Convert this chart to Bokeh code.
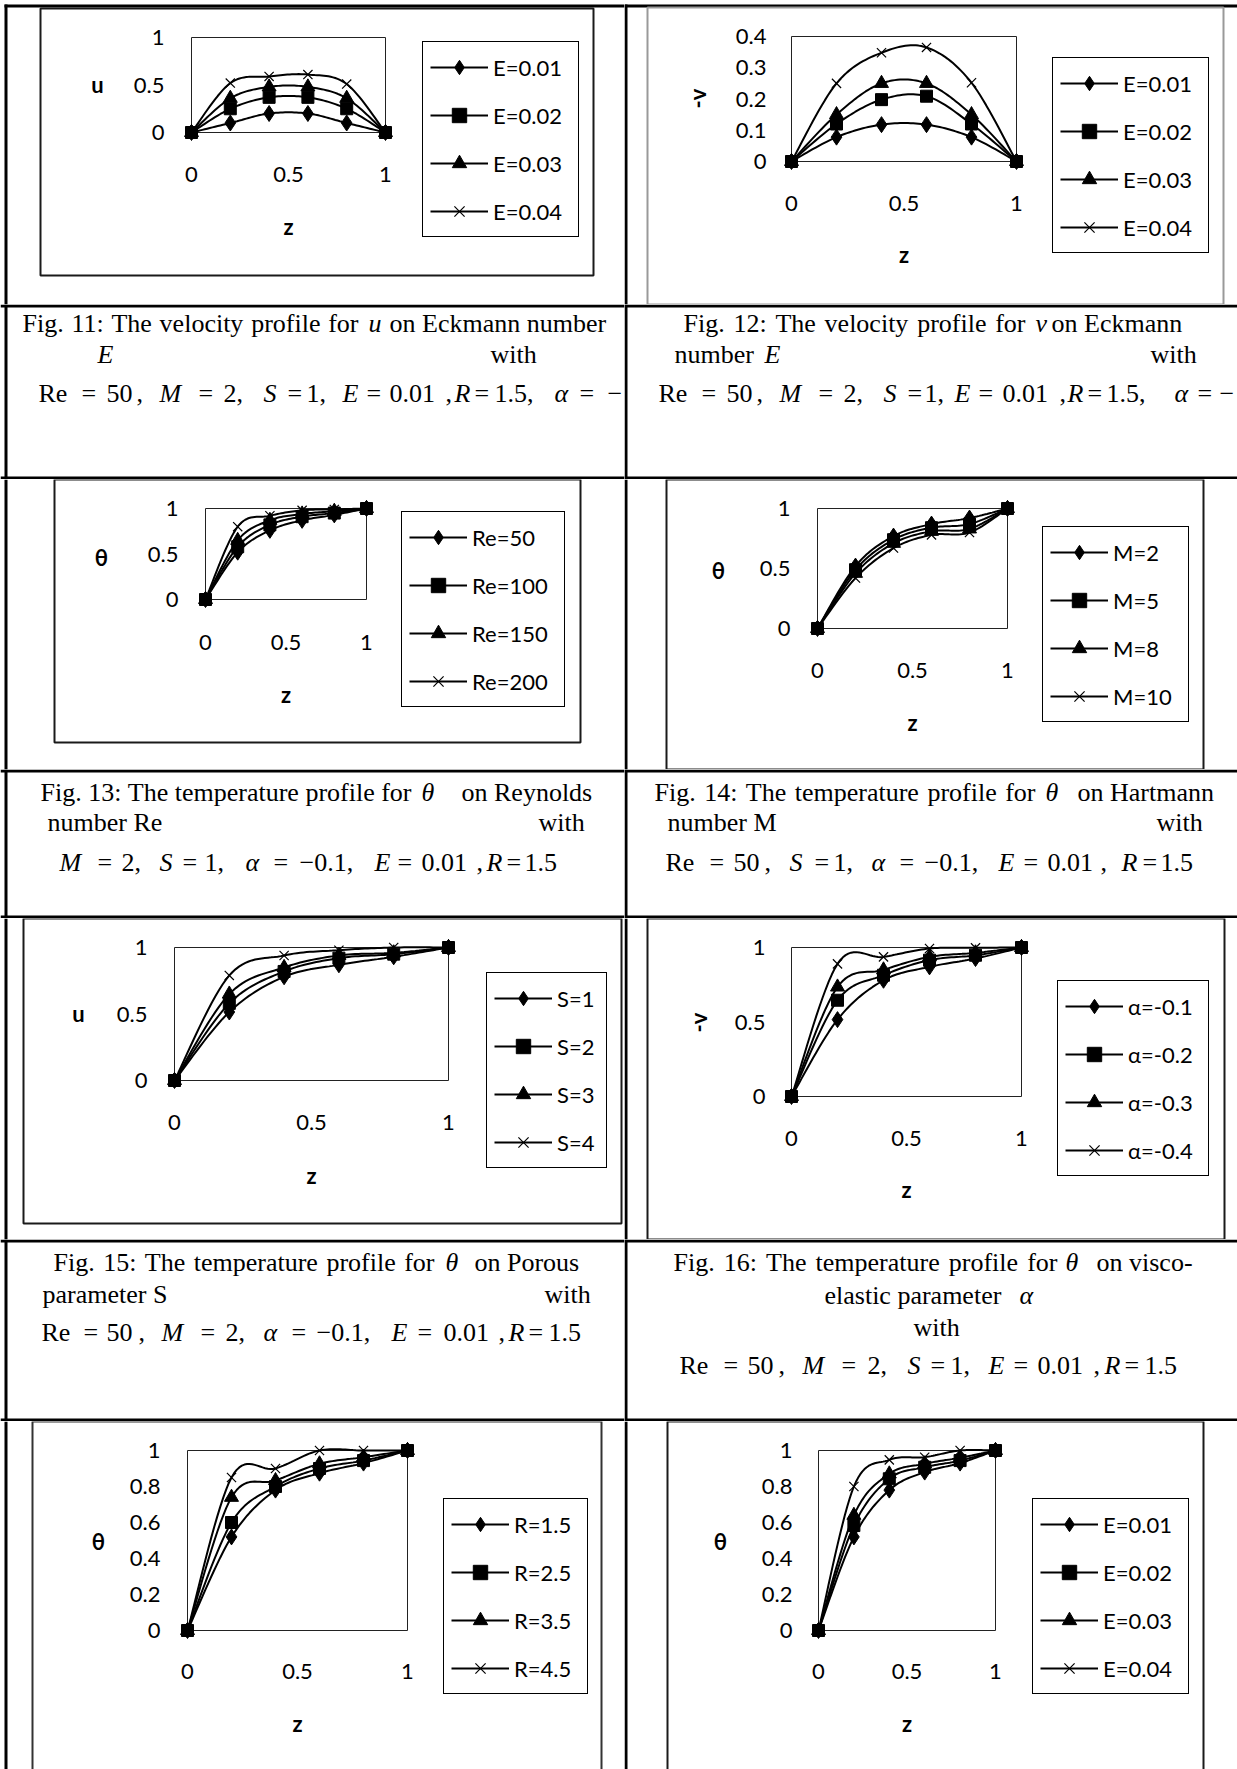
import glob
import math
import numpy as np
from bokeh.plotting import figure
from bokeh.models import Range1d, BoxAnnotation, Legend, LegendItem, FixedTicker
from bokeh.layouts import row, column
from bokeh.embed import file_html
from bokeh.resources import INLINE
from bokeh.core.properties import value

# ---------------- data ----------------
z = [0.0, 0.2, 0.4, 0.6, 0.8, 1.0]

fig11_labels = ["E=0.01", "E=0.02", "E=0.03", "E=0.04"]
fig11_u_E001 = [0, 0.10, 0.20, 0.20, 0.10, 0]
fig11_u_E002 = [0, 0.25, 0.37, 0.37, 0.25, 0]
fig11_u_E003 = [0, 0.36, 0.48, 0.48, 0.36, 0]
fig11_u_E004 = [0, 0.52, 0.59, 0.61, 0.51, 0]

fig12_labels = ["E=0.01", "E=0.02", "E=0.03", "E=0.04"]
fig12_v_E001 = [0, 0.078, 0.118, 0.118, 0.078, 0]
fig12_v_E002 = [0, 0.120, 0.198, 0.209, 0.120, 0]
fig12_v_E003 = [0, 0.150, 0.250, 0.250, 0.150, 0]
fig12_v_E004 = [0, 0.250, 0.348, 0.365, 0.252, 0]

fig13_labels = ["Re=50", "Re=100", "Re=150", "Re=200"]
fig13_t_Re50 = [0, 0.52, 0.76, 0.87, 0.93, 1]
fig13_t_Re100 = [0, 0.58, 0.82, 0.91, 0.95, 1]
fig13_t_Re150 = [0, 0.65, 0.87, 0.94, 0.97, 1]
fig13_t_Re200 = [0, 0.80, 0.92, 0.98, 0.99, 1]

fig14_labels = ["M=2", "M=5", "M=8", "M=10"]
fig14_t_M2 = [0, 0.52, 0.77, 0.87, 0.92, 1]
fig14_t_M5 = [0, 0.49, 0.74, 0.84, 0.87, 1]
fig14_t_M8 = [0, 0.46, 0.71, 0.81, 0.83, 1]
fig14_t_M10 = [0, 0.42, 0.67, 0.78, 0.80, 1]

fig15_labels = ["S=1", "S=2", "S=3", "S=4"]
fig15_u_S1 = [0, 0.515, 0.78, 0.87, 0.93, 1]
fig15_u_S2 = [0, 0.58, 0.82, 0.92, 0.95, 1]
fig15_u_S3 = [0, 0.65, 0.85, 0.94, 0.96, 1]
fig15_u_S4 = [0, 0.79, 0.94, 0.98, 1.0, 1]

fig16_labels = ["α=-0.1", "α=-0.2", "α=-0.3", "α=-0.4"]
fig16_v_a01 = [0, 0.516, 0.78, 0.87, 0.926, 1]
fig16_v_a02 = [0, 0.646, 0.814, 0.915, 0.948, 1]
fig16_v_a03 = [0, 0.735, 0.85, 0.937, 0.964, 1]
fig16_v_a04 = [0, 0.89, 0.937, 0.993, 0.998, 1]

fig17_labels = ["R=1.5", "R=2.5", "R=3.5", "R=4.5"]
fig17_t_R15 = [0, 0.52, 0.78, 0.874, 0.93, 1]
fig17_t_R25 = [0, 0.60, 0.80, 0.90, 0.944, 1]
fig17_t_R35 = [0, 0.74, 0.833, 0.926, 0.963, 1]
fig17_t_R45 = [0, 0.85, 0.90, 1.0, 1.0, 1]

fig18_labels = ["E=0.01", "E=0.02", "E=0.03", "E=0.04"]
fig18_t_E001 = [0, 0.52, 0.78, 0.88, 0.93, 1]
fig18_t_E002 = [0, 0.583, 0.843, 0.907, 0.944, 1]
fig18_t_E003 = [0, 0.64, 0.87, 0.926, 0.96, 1]
fig18_t_E004 = [0, 0.80, 0.948, 0.963, 1.0, 1]

ticks_half = [0, 0.5, 1]
ticks_v = [0, 0.1, 0.2, 0.3, 0.4]
ticks_fifth = [0, 0.2, 0.4, 0.6, 0.8, 1]

# ---------------- page geometry (pixels) ----------------
PAGE_W = 1237
LINE_T = 3
LEFT_LINE_X = 4
MID_X = 624
SERIF = "Liberation Serif"
SANS = "Lato"
CAP_SIZE = 26

CHART_ROWS = [(0, 304), (479, 769), (918, 1239), (1421, 1769)]
CAP_ROWS = [(304, 479), (769, 918), (1239, 1421)]

MARKERS = [dict(marker="diamond", size=16),
           dict(marker="square", size=12),
           dict(marker="triangle", size=14),
           dict(marker="x", size=13)]

LEG_PAD, LEG_GLYPH_W, LEG_GLYPH_H, LEG_STANDOFF, LEG_SPACING = 7, 58, 36, 5, 12


def _measurer():
    try:
        from PIL import ImageFont

        def find(name):
            for pat in ["/usr/share/fonts/**/" + name, "/usr/local/share/fonts/**/" + name]:
                r = glob.glob(pat, recursive=True)
                if r:
                    return r[0]
            return None
        reg = find("LiberationSerif-Regular.ttf")
        if reg is None:
            return None
        f = ImageFont.truetype(reg, CAP_SIZE)
        f.getlength("x")
        return lambda s: f.getlength(s)
    except Exception:
        return None


MEASURE = _measurer()


def smooth(xs, ys, n=18):
    P = np.column_stack([np.asarray(xs, float), np.asarray(ys, float)])
    E = np.vstack([P[:1], P, P[-1:]])
    segs = []
    for i in range(len(P) - 1):
        p0, p1, p2, p3 = E[i], E[i + 1], E[i + 2], E[i + 3]
        c1 = p1 + (p2 - p0) / 6.0
        c2 = p2 - (p3 - p1) / 6.0
        t = np.linspace(0, 1, n)[:, None]
        seg = (1 - t) ** 3 * p1 + 3 * (1 - t) ** 2 * t * c1 + 3 * (1 - t) * t ** 2 * c2 + t ** 3 * p2
        segs.append(seg if i == 0 else seg[1:])
    S = np.vstack(segs)
    return S[:, 0].tolist(), S[:, 1].tolist()


def chart_cell(spec, cx0, cy0, cx1, cy1, vline_x, top_line):
    W, H = cx1 - cx0, cy1 - cy0
    px0, py0, px1, py1 = spec["plot"]
    ymax = spec["ymax"]
    a = float(px1 - px0)                 # pixels per unit of z
    b = float(py1 - py0) / ymax          # pixels per unit of y
    lx = px0 - cx0                       # canvas x of z = 0
    lb = cy1 - py1                       # distance of y = 0 from canvas bottom
    p = figure(width=W, height=H,
               x_range=Range1d(-lx / a, (W - lx) / a),
               y_range=Range1d(-lb / b, (H - lb) / b),
               output_backend="svg", toolbar_location=None, min_border=0)
    p.extra_x_ranges = {"px": Range1d(0, W)}
    p.extra_y_ranges = {"px": Range1d(H, 0)}
    p.outline_line_color = None
    p.background_fill_color = "white"
    p.border_fill_color = "white"
    p.xgrid.visible = False
    p.ygrid.visible = False

    # table rules of this cell
    lefts, rights, tops, bottoms = [vline_x - cx0], [vline_x - cx0 + LINE_T], [0], [H]
    if top_line is not None:
        tops[0] = top_line - cy0
        lefts.append(vline_x - cx0)
        rights.append(W)
        tops.append(top_line - cy0)
        bottoms.append(top_line - cy0 + LINE_T)
    p.quad(left=lefts, right=rights, top=tops, bottom=bottoms, fill_color="black", line_color=None,
           x_range_name="px", y_range_name="px")
    # chart-area border
    bx0, by0, bx1, by1 = spec["box"]
    p.quad(left=[bx0 - cx0], right=[bx1 - cx0], top=[by0 - cy0], bottom=[by1 - cy0],
           fill_color=None, line_color=spec["box_color"], line_width=2,
           x_range_name="px", y_range_name="px")
    # plot-area border
    p.add_layout(BoxAnnotation(left=0, right=1, bottom=0, top=ymax, fill_color=None, fill_alpha=0,
                               line_color="#222222", line_alpha=1, line_width=1, level="underlay"))

    items = []
    for vals, lab, mk in zip(spec["series"], spec["labels"], MARKERS):
        sx, sy = smooth(z, vals)
        lr = p.line(sx, sy, line_color="black", line_width=2)
        if mk["marker"] == "x":
            sr = p.scatter(z, vals, marker="x", size=mk["size"], line_color="black", line_width=1.2)
        else:
            sr = p.scatter(z, vals, marker=mk["marker"], size=mk["size"], fill_color="black",
                           line_color="black")
        items.append(LegendItem(label=lab, renderers=[lr, sr]))

    xa, ya = p.xaxis[0], p.yaxis[0]
    xa.fixed_location = 0
    ya.fixed_location = 0
    xa.ticker = FixedTicker(ticks=ticks_half)
    xa.major_label_overrides = {t: ("%g" % t) for t in ticks_half}
    ya.ticker = FixedTicker(ticks=spec["yticks"])
    ya.major_label_overrides = {t: ("%g" % t) for t in spec["yticks"]}
    for ax in (xa, ya):
        ax.axis_line_color = None
        ax.major_tick_line_color = None
        ax.minor_tick_line_color = None
        ax.major_tick_out = 0
        ax.major_tick_in = 0
        ax.major_label_text_font = SANS
        ax.major_label_text_font_size = "22px"
        ax.major_label_text_color = "black"
    ya.major_label_standoff = int(round(px0 - spec["ytick_right"]))
    xa.major_label_standoff = int(round(spec["xtick_cy"] - 8.8 - py1))

    # axis titles
    ylx, yly = spec["ylabel_xy"]
    common = dict(x_range_name="px", y_range_name="px", text_font=value(SANS), text_font_style="bold",
                  text_font_size="22px", text_color="black", text_align="center", text_baseline="middle")
    if spec["ylabel_rot"]:
        p.text(x=[ylx - cx0], y=[yly - cy0], text=[spec["ylabel"]], angle=math.pi / 2, **common)
    else:
        p.text(x=[ylx - cx0], y=[yly - cy0], text=[spec["ylabel"]], **common)
    p.text(x=[(px0 + px1) / 2.0 - cx0], y=[spec["xlabel_cy"] - cy0 - 3], text=["z"], **common)

    LEG_H = LEG_PAD * 2 + 4 * LEG_GLYPH_H + 3 * LEG_SPACING
    lx0, ly0, lx1 = spec["legend"]
    leg = Legend(items=items, location=(lx0 - cx0, cy1 - (ly0 + LEG_H)),
                 glyph_width=LEG_GLYPH_W, glyph_height=LEG_GLYPH_H, label_height=26,
                 label_width=int(lx1 - lx0 - (2 * LEG_PAD + LEG_GLYPH_W + LEG_STANDOFF)),
                 label_standoff=LEG_STANDOFF, spacing=LEG_SPACING, padding=LEG_PAD, margin=0,
                 border_line_color="black", border_line_width=1, border_line_alpha=1,
                 background_fill_color="white", background_fill_alpha=1,
                 label_text_font=SANS, label_text_font_size="22px", label_text_color="black")
    p.add_layout(leg)
    return p


def caption_fig(x0, x1, y0, y1, line_x, cap):
    W, H = x1 - x0, y1 - y0
    p = figure(width=W, height=H, x_range=Range1d(0, W), y_range=Range1d(H, 0),
               x_axis_type=None, y_axis_type=None, output_backend="svg",
               toolbar_location=None, min_border=0)
    p.outline_line_color = None
    p.background_fill_color = "white"
    p.border_fill_color = "white"
    lx = line_x - x0
    p.quad(left=[0, 0, lx], right=[W, W, lx + LINE_T], top=[0, H - LINE_T, 0], bottom=[LINE_T, H, H],
           fill_color="black", line_color=None)
    toks = list(cap["tokens"])
    for (jx0, jx1, jy, txt) in cap["justify"]:
        words = txt.split(" ")
        if MEASURE is None or len(words) < 2:
            toks.append((jx0, jy, txt, False))
            continue
        ws = [MEASURE(w) for w in words]
        gap = (jx1 - jx0 - sum(ws)) / (len(words) - 1)
        xx = jx0
        for w, wd in zip(words, ws):
            toks.append((xx, jy, w, False))
            xx += wd + gap
    for ital in (False, True):
        sel = [t for t in toks if t[3] == ital]
        if not sel:
            continue
        p.text(x=[t[0] - x0 for t in sel], y=[t[1] - y0 for t in sel], text=[t[2] for t in sel],
               text_font=value(SERIF), text_font_size="%dpx" % CAP_SIZE, text_color="black",
               text_baseline="middle", text_align="left",
               text_font_style="italic" if ital else "normal")
    return p


F, T = False, True
CAP11 = dict(justify=[(22, 358, 323, "Fig. 11: The velocity profile for")], tokens=[
    (368, 323, "u", T), (389, 323, "on Eckmann number", F),
    (97, 354, "E", T), (490, 354, "with", F),
    (38, 393, "Re", F), (81, 393, "=", F), (106, 393, "50", F), (136, 393, ",", F), (159, 393, "M", T),
    (198, 393, "=", F), (223, 393, "2,", F), (263, 393, "S", T), (287, 393, "=", F), (306, 393, "1,", F),
    (342, 393, "E", T), (366, 393, "=", F), (389, 393, "0.01", F), (445, 393, ",", F), (454, 393, "R", T),
    (474, 393, "=", F), (494, 393, "1.5,", F), (554, 393, "α", T), (579, 393, "=", F), (607, 393, "−", F)])
CAP12 = dict(justify=[(683, 1025, 323, "Fig. 12: The velocity profile for")], tokens=[
    (1035, 323, "v", T), (1051, 323, "on Eckmann", F),
    (674, 354, "number", F), (764, 354, "E", T), (1150, 354, "with", F),
    (658, 393, "Re", F), (701, 393, "=", F), (726, 393, "50", F), (756, 393, ",", F), (779, 393, "M", T),
    (818, 393, "=", F), (843, 393, "2,", F), (883, 393, "S", T), (907, 393, "=", F), (924, 393, "1,", F),
    (954, 393, "E", T), (978, 393, "=", F), (1002, 393, "0.01", F), (1059, 393, ",", F), (1067, 393, "R", T),
    (1087, 393, "=", F), (1106, 393, "1.5,", F), (1174, 393, "α", T), (1197, 393, "=", F), (1219, 393, "−", F)])
CAP13 = dict(justify=[(40, 411, 792, "Fig. 13: The temperature profile for")], tokens=[
    (421, 792, "θ", T), (461, 792, "on Reynolds", F),
    (47, 822, "number Re", F), (538, 822, "with", F),
    (59, 862, "M", T), (97, 862, "=", F), (121, 862, "2,", F), (159, 862, "S", T), (182, 862, "=", F),
    (204, 862, "1,", F), (245, 862, "α", T), (273, 862, "=", F), (299, 862, "−0.1,", F), (374, 862, "E", T),
    (397, 862, "=", F), (421, 862, "0.01", F), (476, 862, ",", F), (486, 862, "R", T), (506, 862, "=", F),
    (524, 862, "1.5", F)])
CAP14 = dict(justify=[(654, 1035, 792, "Fig. 14: The temperature profile for")], tokens=[
    (1045, 792, "θ", T), (1077, 792, "on Hartmann", F),
    (667, 822, "number M", F), (1156, 822, "with", F),
    (665, 862, "Re", F), (709, 862, "=", F), (733, 862, "50", F), (764, 862, ",", F), (789, 862, "S", T),
    (814, 862, "=", F), (833, 862, "1,", F), (871, 862, "α", T), (899, 862, "=", F), (924, 862, "−0.1,", F),
    (998, 862, "E", T), (1023, 862, "=", F), (1047, 862, "0.01", F), (1100, 862, ",", F), (1121, 862, "R", T),
    (1142, 862, "=", F), (1160, 862, "1.5", F)])
CAP15 = dict(justify=[(53, 434, 1262, "Fig. 15: The temperature profile for")], tokens=[
    (445, 1262, "θ", T), (474, 1262, "on Porous", F),
    (42, 1294, "parameter S", F), (544, 1294, "with", F),
    (41, 1332, "Re", F), (83, 1332, "=", F), (106, 1332, "50", F), (138, 1332, ",", F), (161, 1332, "M", T),
    (200, 1332, "=", F), (225, 1332, "2,", F), (263, 1332, "α", T), (291, 1332, "=", F), (316, 1332, "−0.1,", F),
    (391, 1332, "E", T), (417, 1332, "=", F), (443, 1332, "0.01", F), (498, 1332, ",", F), (508, 1332, "R", T),
    (528, 1332, "=", F), (548, 1332, "1.5", F)])
CAP16 = dict(justify=[(673, 1057, 1262, "Fig. 16: The temperature profile for")], tokens=[
    (1065, 1262, "θ", T), (1096, 1262, "on visco-", F),
    (824, 1295, "elastic parameter", F), (1019, 1295, "α", T),
    (913, 1327, "with", F),
    (679, 1365, "Re", F), (723, 1365, "=", F), (747, 1365, "50", F), (778, 1365, ",", F), (802, 1365, "M", T),
    (841, 1365, "=", F), (867, 1365, "2,", F), (907, 1365, "S", T), (930, 1365, "=", F), (950, 1365, "1,", F),
    (988, 1365, "E", T), (1013, 1365, "=", F), (1037, 1365, "0.01", F), (1093, 1365, ",", F), (1104, 1365, "R", T),
    (1124, 1365, "=", F), (1144, 1365, "1.5", F)])

DARK = "#1a1a1a"
SPECS = [
    dict(series=[fig11_u_E001, fig11_u_E002, fig11_u_E003, fig11_u_E004], labels=fig11_labels,
         ymax=1.0, yticks=ticks_half, box=(40, 8, 593, 275), box_color=DARK, plot=(191, 37, 385, 132),
         ytick_right=164, xtick_cy=175, ylabel="u", ylabel_rot=False, ylabel_xy=(97, 84), xlabel_cy=229,
         legend=(422, 43, 577)),
    dict(series=[fig12_v_E001, fig12_v_E002, fig12_v_E003, fig12_v_E004], labels=fig12_labels,
         ymax=0.4, yticks=ticks_v, box=(647, 7, 1223, 304), box_color="#999999", plot=(791, 36, 1016, 161),
         ytick_right=766, xtick_cy=204, ylabel="-v", ylabel_rot=True, ylabel_xy=(697, 98), xlabel_cy=257,
         legend=(1052, 59, 1207)),
    dict(series=[fig13_t_Re50, fig13_t_Re100, fig13_t_Re150, fig13_t_Re200], labels=fig13_labels,
         ymax=1.0, yticks=ticks_half, box=(54, 479, 580, 742), box_color=DARK, plot=(205, 508, 366, 599),
         ytick_right=178, xtick_cy=643, ylabel="θ", ylabel_rot=False, ylabel_xy=(101, 557), xlabel_cy=697,
         legend=(401, 513, 563)),
    dict(series=[fig14_t_M2, fig14_t_M5, fig14_t_M8, fig14_t_M10], labels=fig14_labels,
         ymax=1.0, yticks=ticks_half, box=(666, 479, 1203, 769), box_color=DARK, plot=(817, 508, 1007, 628),
         ytick_right=790, xtick_cy=671, ylabel="θ", ylabel_rot=False, ylabel_xy=(718, 570), xlabel_cy=725,
         legend=(1042, 528, 1187)),
    dict(series=[fig15_u_S1, fig15_u_S2, fig15_u_S3, fig15_u_S4], labels=fig15_labels,
         ymax=1.0, yticks=ticks_half, box=(23, 918, 621, 1223), box_color=DARK, plot=(174, 947, 448, 1080),
         ytick_right=147, xtick_cy=1123, ylabel="u", ylabel_rot=False, ylabel_xy=(78, 1013), xlabel_cy=1178,
         legend=(486, 974, 605)),
    dict(series=[fig16_v_a01, fig16_v_a02, fig16_v_a03, fig16_v_a04], labels=fig16_labels,
         ymax=1.0, yticks=ticks_half, box=(647, 918, 1224, 1239), box_color=DARK, plot=(791, 947, 1021, 1096),
         ytick_right=765, xtick_cy=1139, ylabel="-v", ylabel_rot=True, ylabel_xy=(698, 1022), xlabel_cy=1192,
         legend=(1057, 982, 1207)),
    dict(series=[fig17_t_R15, fig17_t_R25, fig17_t_R35, fig17_t_R45], labels=fig17_labels,
         ymax=1.0, yticks=ticks_fifth, box=(32, 1421, 601, 1800), box_color="#333333", plot=(187, 1450, 407, 1630),
         ytick_right=160, xtick_cy=1672, ylabel="θ", ylabel_rot=False, ylabel_xy=(98, 1541), xlabel_cy=1726,
         legend=(443, 1500, 586)),
    dict(series=[fig18_t_E001, fig18_t_E002, fig18_t_E003, fig18_t_E004], labels=fig18_labels,
         ymax=1.0, yticks=ticks_fifth, box=(667, 1421, 1203, 1800), box_color=DARK, plot=(818, 1450, 995, 1630),
         ytick_right=792, xtick_cy=1672, ylabel="θ", ylabel_rot=False, ylabel_xy=(720, 1541), xlabel_cy=1726,
         legend=(1032, 1500, 1187)),
]
CAPS = [(CAP11, CAP12), (CAP13, CAP14), (CAP15, CAP16)]

# ---------------- assemble the page ----------------
rows = []
for i, (y0, y1) in enumerate(CHART_ROWS):
    tl = 4 if i == 0 else None
    rows.append(row(chart_cell(SPECS[2 * i], 0, y0, MID_X, y1, LEFT_LINE_X, tl),
                    chart_cell(SPECS[2 * i + 1], MID_X, y0, PAGE_W, y1, MID_X, tl), spacing=0))
    if i < len(CAP_ROWS):
        cy0, cy1 = CAP_ROWS[i]
        capL, capR = CAPS[i]
        rows.append(row(caption_fig(0, MID_X, cy0, cy1, LEFT_LINE_X, capL),
                        caption_fig(MID_X, PAGE_W, cy0, cy1, MID_X, capR), spacing=0))

root = column(*rows, spacing=0)

open("out.html", "w").write(file_html(root, INLINE))
